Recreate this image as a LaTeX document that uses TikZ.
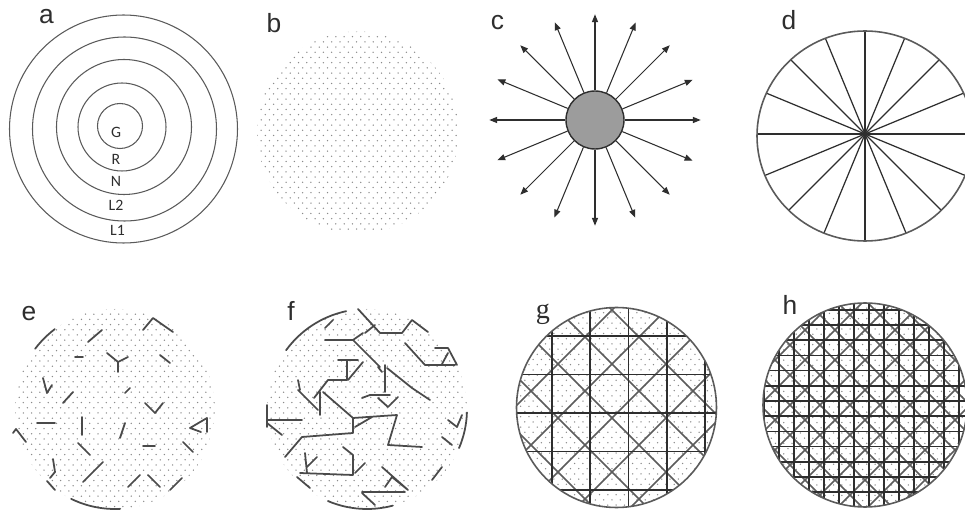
\documentclass[tikz,border=0pt]{standalone}
\usepackage{fontspec}
\setmainfont{Liberation Sans}
\newfontfamily\calfont{Carlito}
\newfontfamily\serfont{Liberation Serif}
\usetikzlibrary{arrows.meta}
\definecolor{inkgray}{HTML}{2E2E2E}
\definecolor{ringgray}{HTML}{5A5A5A}
\definecolor{dotgray}{HTML}{8A8A8A}
\definecolor{hubgray}{HTML}{9C9C9C}
\definecolor{bondgray}{HTML}{4A4A4A}
\definecolor{crossgray}{HTML}{5C5C5C}

% dotted disc: centre x, centre y, radius
\newcommand{\dotdisc}[3]{%
    \begin{scope}
        \clip (#1,#2) circle[radius=#3];
        \foreach \row in {0,...,40}{
            \foreach \col in {0,...,25}{
                \fill[dotgray] ({#1-#3+\col*8.3+mod(\row,2)*4.15},{#2-#3+\row*5.2}) circle[radius=0.75];
            }
        }
    \end{scope}}

\begin{document}
\begin{tikzpicture}[
    x=0.02cm, y=-0.02cm,
    panel/.style={font=\fontsize{15}{15}\selectfont, text=inkgray, inner sep=0pt},
    ring/.style={draw=ringgray, line width=0.6pt},
    layer/.style={font=\calfont\fontsize{9}{9}\selectfont, text=inkgray, inner sep=0pt},
    hub/.style={circle, draw=inkgray, fill=hubgray, line width=0.8pt, minimum size=1.16cm, inner sep=0pt},
    ray/.style={-{Triangle[length=4.5pt, width=3.5pt]}, inkgray, line width=0.6pt},
    spoke/.style={inkgray, line width=0.7pt},
    rim/.style={draw=ringgray, line width=0.9pt},
    bond/.style={bondgray, line width=1pt, line cap=round, line join=round},
    grid line/.style={inkgray, line width=1pt},
    diag line/.style={crossgray, line width=0.85pt},
]
    \useasboundingbox (0,0) rectangle (965,513);
    \fill[white] (0,0) rectangle (965,513);

    % a: layers
    \foreach \cx/\cy/\r in {123.5/129/114, 124.5/129/92, 124/127/67.5, 122/127/44, 120/126/22.5}
        \draw[ring] (\cx,\cy) circle[radius=\r];
    \node[layer] (lg) at (116,132) {G};
    \node[layer] (lr) at (116,159) {R};
    \node[layer] (ln) at (116,181) {N};
    \node[layer] (ll2) at (116,205.5) {L2};
    \node[layer] (ll1) at (117.5,230) {L1};

    % b
    \dotdisc{358}{132.5}{101}

    % c: radiating arrows
    \node[hub] (hub) at (595,120) {};
    \foreach \a in {0,22.5,...,337.5}
        \draw[ray] (hub.\a) -- ++(\a:1.52cm);

    % d: sectors
    \coordinate (dhub) at (865,134);
    \begin{scope}
        \clip (865,136) ellipse[x radius=108, y radius=105];
        \foreach \a in {0,22.5,...,337.5}
            \draw[spoke] (dhub) -- ++(\a:2.4cm);
    \end{scope}
    \draw[rim] (865,136) ellipse[x radius=108, y radius=105];

    % e: short bonds
    \dotdisc{115}{409}{100}
    \draw[bond] (115,409) ++(217:100) arc[start angle=217, end angle=233, radius=100];
    \draw[bond] (115,409) ++(87:100) arc[start angle=87, end angle=116, radius=100];
    \draw[bond]
        (88,342) -- (102,330)
        (143,330) -- (153,318) -- (173,332)
        (75,357) -- (83,357)
        (107,353) -- (118,362) -- (128,357) (118,362) -- (118,372)
        (160,355) -- (170,363)
        (43,378) -- (47,393) -- (52,385)
        (63,403) -- (73,392)
        (125,393) -- (130,388)
        (145,403) -- (155,413) -- (163,403)
        (37,423) -- (55,423)
        (82,417) -- (82,435)
        (120,438) -- (125,423)
        (13,433) -- (16,429) -- (26,442)
        (190,428) -- (207,418) -- (207,432) (190,428) -- (201,432)
        (143,446) -- (155,446)
        (78,443) -- (90,455)
        (183,442) -- (193,452)
        (53,459) -- (55,472) -- (50,478) (47,481) -- (55,490)
        (83,482) -- (103,462)
        (128,487) -- (140,475)
        (148,475) -- (160,487)
        (170,490) -- (182,478);

    % f: branched bonds
    \dotdisc{367}{409}{100}
    \draw[bond] (367,409) ++(216:100) arc[start angle=216, end angle=258, radius=100];
    \draw[bond] (367,409) ++(75:100) arc[start angle=75, end angle=113, radius=100];
    \draw[bond] (367,409) ++(2:100) arc[start angle=2, end angle=23, radius=100];
    \draw[bond]
        (325,328) -- (333,320)
        (358,309) -- (380,333) -- (402,333) -- (412,320) -- (428,332)
        (365,333) -- (375,325)
        (325,340) -- (353,340) -- (363,333) (353,340) -- (380,367)
        (387,368) -- (412,388) -- (430,400)
        (405,343) -- (425,365) -- (455,365) (435,348) -- (448,348) -- (457,365) (442,364) -- (448,353)
        (338,360) -- (358,360) (347,360) -- (347,380) -- (328,380) -- (314,398) (348,380) -- (363,362)
        (385,365) -- (385,392) (378,367) -- (382,372)
        (362,398) -- (370,395) -- (390,395) (378,398) -- (388,407) -- (398,397)
        (298,380) -- (300,390) (298,390) -- (318,410) (320,392) -- (320,415)
        (323,392) -- (353,418) -- (353,433) -- (302,437) -- (285,457)
        (353,418) -- (397,415) -- (388,445) -- (422,447)
        (355,427) -- (372,417)
        (267,405) -- (267,427) (267,420) -- (302,420) (267,423) -- (282,435)
        (448,420) -- (457,427) -- (462,415)
        (442,437) -- (452,445)
        (305,453) -- (307,473) (307,467) -- (317,457)
        (300,473) -- (353,475) (297,477) -- (310,488)
        (343,447) -- (353,455) -- (353,475) (355,473) -- (365,463)
        (382,467) -- (408,490) (385,487) -- (392,477) -- (408,490)
        (362,492) -- (405,492) (362,493) -- (375,505)
        (432,480) -- (442,467);

    % g: coarse grid with diagonals
    \dotdisc{616.5}{407.5}{100}
    \begin{scope}
        \clip (616.5,407.5) circle[radius=100];
        \foreach \c in {868,922,...,1192}
            \draw[diag line] (500,{\c-500}) -- (740,{\c-740});
        \foreach \c in {32,86,...,356}
            \draw[diag line] (500,{500-\c}) -- (740,{740-\c});
        \foreach \x in {552,590.3,...,710}
            \draw[grid line] (\x,300) -- (\x,515);
        \foreach \y in {336,374.5,...,495}
            \draw[grid line] (510,\y) -- (725,\y);
    \end{scope}
    \draw[rim] (616.5,407.5) circle[radius=100];

    % h: fine grid with diagonals
    \dotdisc{865}{405}{102}
    \begin{scope}
        \clip (865,405) circle[radius=102];
        \foreach \c in {1135,1165,...,1405}
            \draw[diag line] (750,{\c-750}) -- (980,{\c-980});
        \foreach \c in {325,355,...,595}
            \draw[diag line] (750,{750-\c}) -- (980,{980-\c});
        \foreach \x in {764,779,...,965}
            \draw[grid line] (\x,295) -- (\x,515);
        \foreach \y in {294.6,309.8,...,512}
            \draw[grid line] (755,\y) -- (975,\y);
    \end{scope}
    \draw[rim] (865,405) circle[radius=102];

    % panel letters
    \node[panel] (pa) at (46.5,16.5) {a};
    \node[panel] (pb) at (274,23) {b};
    \node[panel] (pc) at (497.5,23) {c};
    \node[panel] (pd) at (789,20) {d};
    \node[panel] (pe) at (29,314) {e};
    \node[panel] (pf) at (291,311) {f};
    \node[panel, font=\serfont\fontsize{16}{16}\selectfont] (pg) at (543,314) {g};
    \node[panel] (ph) at (790,305) {h};
\end{tikzpicture}
\end{document}
